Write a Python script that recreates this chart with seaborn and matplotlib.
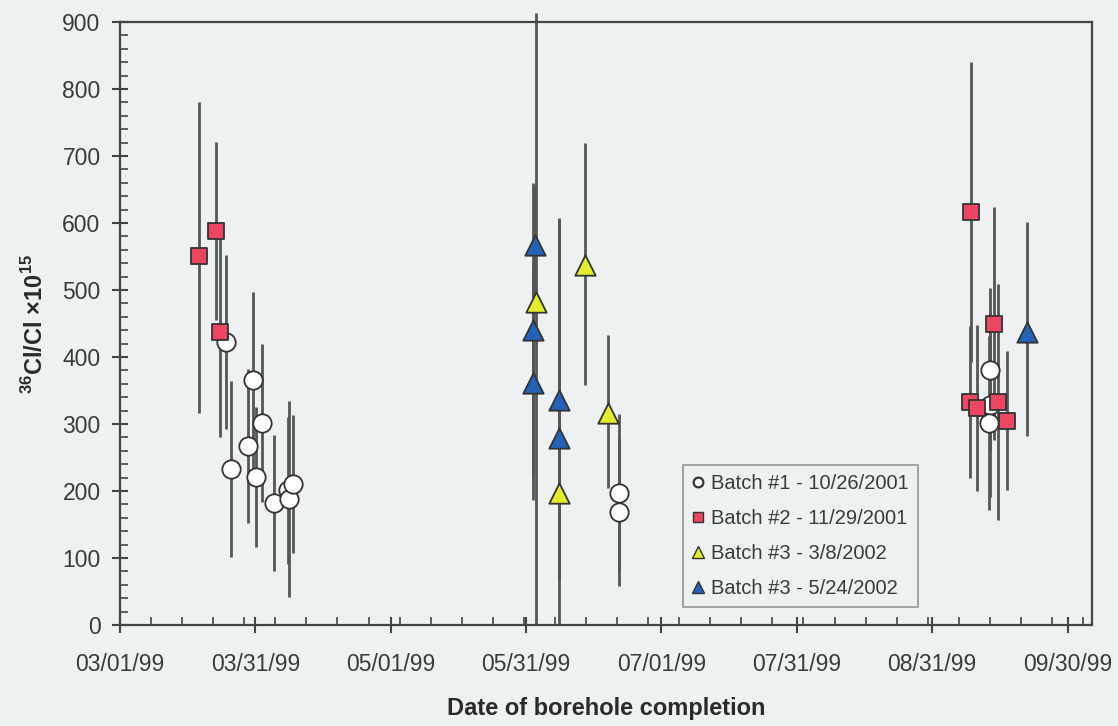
import numpy as np
import pandas as pd
import seaborn as sns
import matplotlib.pyplot as plt
from matplotlib.ticker import MultipleLocator, FixedLocator
from matplotlib.lines import Line2D

# x = days after 03/01/99, y = 36Cl/Cl x 1e15, lo / hi = bar length below / above
b1_days = [23.9, 25.0, 28.8, 30.0, 30.6, 32.0, 34.7, 37.9, 38.1, 39.0, 112.4, 112.4, 196.0, 196.0, 195.8]
b1_vals = [423, 233, 267, 366, 221, 301, 182, 201, 188, 210, 197, 169, 381, 328, 301]
b1_lo = [130, 132, 115, 131, 105, 118, 101, 110, 146, 103, 118, 110, 122, 137, 130]
b1_hi = [130, 132, 115, 131, 105, 118, 101, 110, 146, 103, 118, 110, 122, 137, 130]

b2_days = [17.8, 21.6, 22.5, 191.6, 191.8, 193.1, 196.9, 197.8, 199.9]
b2_vals = [551, 588, 437, 333, 616, 324, 450, 333, 305]
b2_lo = [235, 133, 156, 114, 224, 124, 174, 176, 104]
b2_hi = [230, 133, 156, 114, 224, 124, 174, 176, 104]

b3a_days = [93.7, 98.9, 104.8, 110.0]
b3a_vals = [482, 197, 537, 316]
b3a_lo = [482, 197, 178, 112]
b3a_hi = [431, 410, 183, 117]

b3b_days = [93.5, 93.1, 93.1, 98.9, 98.9, 204.4]
b3b_vals = [567, 440, 361, 336, 279, 437]
b3b_lo = [90, 220, 175, 268, 200, 155]
b3b_hi = [90, 220, 175, 268, 200, 165]

labels = ["Batch #1 - 10/26/2001", "Batch #2 - 11/29/2001",
          "Batch #3 - 3/8/2002", "Batch #3 - 5/24/2002"]

start = pd.Timestamp("1999-03-01")
bg = "#edf1f2"

sns.set_theme(style="ticks")
plt.rcParams["font.family"] = ["Liberation Sans", "DejaVu Sans"]
plt.rcParams["mathtext.fontset"] = "custom"
plt.rcParams["mathtext.rm"] = "Liberation Sans"
plt.rcParams["mathtext.bf"] = "Liberation Sans:bold"

fig = plt.figure(figsize=(11.18, 7.26), dpi=100, facecolor=bg)
ax = fig.add_axes([0.1073, 0.139, 0.8694, 0.8307])
ax.set_facecolor(bg)

batches = [
    (b1_days, b1_vals, b1_lo, b1_hi, "o", "white", 175),
    (b2_days, b2_vals, b2_lo, b2_hi, "s", "#ec4662", 125),
    (b3a_days, b3a_vals, b3a_lo, b3a_hi, "^", "#e4ec2c", 215),
    (b3b_days, b3b_vals, b3b_lo, b3b_hi, "^", "#2462b8", 215),
]

for days, vals, lo, hi, mk, col, size in batches:
    d = pd.DataFrame({"day": days, "val": vals, "lo": lo, "hi": hi})
    ax.vlines(d["day"], d["val"] - d["lo"], d["val"] + d["hi"], color="#555555",
              lw=2, clip_on=False, zorder=2)
    sns.scatterplot(data=d, x="day", y="val", marker=mk, color=col, s=size,
                    edgecolor="#333333", linewidth=1.3, ax=ax, zorder=3, legend=False)

ax.set_xlim(0, 219)
ax.set_ylim(0, 900)

xt = np.arange(0, 214, 30.5)
ax.xaxis.set_major_locator(FixedLocator(xt))
ax.set_xticklabels([(start + pd.Timedelta(days=int(np.floor(t)))).strftime("%m/%d/%y") for t in xt])
ax.xaxis.set_minor_locator(MultipleLocator(7))
ax.yaxis.set_major_locator(MultipleLocator(100))
ax.yaxis.set_minor_locator(MultipleLocator(20))

ax.tick_params(which="major", direction="inout", length=12, width=1.5, color="#444444",
               labelsize=16.5, labelcolor="#3a3a3a")
ax.tick_params(axis="x", which="major", pad=14)
ax.tick_params(axis="y", which="major", pad=8)
ax.tick_params(which="minor", direction="in", length=6, width=1.2, color="#444444")

for s in ax.spines.values():
    s.set_visible(True)
    s.set_color("#444444")
    s.set_linewidth(1.6)

ax.set_xlabel("Date of borehole completion", fontsize=17, fontweight="bold",
              color="#2a2a2a", labelpad=15)
ax.set_ylabel(r"$^{\mathbf{36}}$Cl/Cl ×10$^{\mathbf{15}}$", fontsize=17,
              fontweight="bold", color="#2a2a2a", labelpad=10)

handles = [
    Line2D([], [], ls="none", marker="o", mfc="white", mec="#333333", ms=7, mew=1.6),
    Line2D([], [], ls="none", marker="s", mfc="#ec4662", mec="#333333", ms=7, mew=1),
    Line2D([], [], ls="none", marker="^", mfc="#e4ec2c", mec="#333333", ms=8, mew=1),
    Line2D([], [], ls="none", marker="^", mfc="#2462b8", mec="#333333", ms=8, mew=1),
]
leg = ax.legend(handles, labels, loc="lower left", bbox_to_anchor=(0.579, 0.03),
                fontsize=14.5, frameon=True, fancybox=False, facecolor=bg, edgecolor="#888888",
                handlelength=0.6, handletextpad=0.35, labelspacing=0.8, borderpad=0.45,
                borderaxespad=0)
leg.get_frame().set_linewidth(1.3)
for t in leg.get_texts():
    t.set_color("#3a3a3a")

fig.savefig("out.png", dpi=100, facecolor=bg)
